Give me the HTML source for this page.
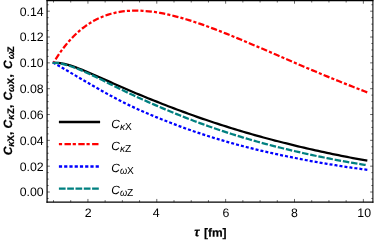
<!DOCTYPE html><html><head><meta charset="utf-8"><title>plot</title><style>html,body{margin:0;padding:0;background:#fff}svg{display:block;will-change:transform}text{font-family:"Liberation Sans",sans-serif;fill:#000;text-rendering:geometricPrecision}</style></head><body>
<svg width="374" height="240" viewBox="0 0 374 240">
<g fill="none" stroke-width="2.25" stroke-linecap="butt" stroke-linejoin="round">
<path d="M52.74 62.94 L55.63 62.76 L58.51 62.90 L61.40 63.29 L64.29 63.86 L67.17 64.59 L70.06 65.44 L72.95 66.38 L75.83 67.40 L78.72 68.49 L81.60 69.62 L84.49 70.79 L87.38 71.99 L90.26 73.22 L93.15 74.47 L96.03 75.73 L98.92 77.00 L101.81 78.29 L104.69 79.57 L107.58 80.86 L110.46 82.15 L113.35 83.43 L116.24 84.71 L119.12 85.99 L122.01 87.25 L124.90 88.51 L127.78 89.76 L130.67 90.99 L133.55 92.22 L136.44 93.43 L139.33 94.64 L142.21 95.83 L145.10 97.02 L147.98 98.19 L150.87 99.36 L153.76 100.52 L156.64 101.66 L159.53 102.80 L162.42 103.94 L165.30 105.06 L168.19 106.18 L171.07 107.28 L173.96 108.38 L176.85 109.47 L179.73 110.55 L182.62 111.62 L185.50 112.68 L188.39 113.73 L191.28 114.77 L194.16 115.80 L197.05 116.82 L199.93 117.82 L202.82 118.82 L205.71 119.81 L208.59 120.79 L211.48 121.76 L214.37 122.72 L217.25 123.66 L220.14 124.60 L223.02 125.53 L225.91 126.44 L228.80 127.35 L231.68 128.25 L234.57 129.13 L237.45 130.01 L240.34 130.88 L243.23 131.74 L246.11 132.58 L249.00 133.42 L251.88 134.25 L254.77 135.07 L257.66 135.88 L260.54 136.68 L263.43 137.47 L266.32 138.25 L269.20 139.02 L272.09 139.78 L274.97 140.54 L277.86 141.28 L280.75 142.02 L283.63 142.74 L286.52 143.46 L289.40 144.17 L292.29 144.88 L295.18 145.59 L298.06 146.29 L300.95 146.98 L303.83 147.66 L306.72 148.34 L309.61 149.00 L312.49 149.66 L315.38 150.31 L318.27 150.95 L321.15 151.58 L324.04 152.21 L326.92 152.82 L329.81 153.43 L332.70 154.04 L335.58 154.63 L338.47 155.22 L341.35 155.80 L344.24 156.37 L347.13 156.93 L350.01 157.49 L352.90 158.02 L355.78 158.55 L358.67 159.07 L361.56 159.58 L364.44 160.08 L367.33 160.58" stroke="#000"/>
<path d="M53.50 62.86 L56.38 58.16 L59.26 53.79 L62.14 49.73 L65.02 45.96 L67.90 42.46 L70.78 39.21 L73.65 36.20 L76.53 33.42 L79.41 30.85 L82.29 28.48 L85.17 26.30 L88.05 24.30 L90.93 22.47 L93.81 20.80 L96.69 19.29 L99.57 17.92 L102.45 16.69 L105.33 15.59 L108.20 14.62 L111.08 13.77 L113.96 13.03 L116.84 12.40 L119.72 11.87 L122.60 11.44 L125.48 11.10 L128.36 10.85 L131.24 10.69 L134.12 10.61 L137.00 10.60 L139.88 10.67 L142.75 10.80 L145.63 11.01 L148.51 11.27 L151.39 11.60 L154.27 11.98 L157.15 12.42 L160.03 12.91 L162.91 13.44 L165.79 14.03 L168.67 14.66 L171.55 15.33 L174.43 16.04 L177.30 16.79 L180.18 17.57 L183.06 18.39 L185.94 19.24 L188.82 20.12 L191.70 21.03 L194.58 21.97 L197.46 22.93 L200.34 23.92 L203.22 24.93 L206.10 25.96 L208.98 27.01 L211.85 28.08 L214.73 29.16 L217.61 30.27 L220.49 31.39 L223.37 32.52 L226.25 33.66 L229.13 34.82 L232.01 35.99 L234.89 37.17 L237.77 38.36 L240.65 39.55 L243.53 40.76 L246.40 41.97 L249.28 43.18 L252.16 44.41 L255.04 45.63 L257.92 46.87 L260.80 48.10 L263.68 49.34 L266.56 50.58 L269.44 51.82 L272.32 53.07 L275.20 54.31 L278.08 55.56 L280.95 56.80 L283.83 58.04 L286.71 59.29 L289.59 60.53 L292.47 61.77 L295.35 63.00 L298.23 64.24 L301.11 65.47 L303.99 66.70 L306.87 67.92 L309.75 69.14 L312.63 70.36 L315.50 71.57 L318.38 72.77 L321.26 73.98 L324.14 75.17 L327.02 76.36 L329.90 77.55 L332.78 78.73 L335.66 79.90 L338.54 81.07 L341.42 82.23 L344.30 83.39 L347.18 84.53 L350.05 85.67 L352.93 86.81 L355.81 87.94 L358.69 89.05 L361.57 90.17 L364.45 91.27 L367.33 92.37" stroke="#f00" stroke-dasharray="3.1 2.1 6.26 2.1" stroke-dashoffset="1.2"/>
<path d="M52.98 62.58 L55.87 64.18 L58.75 65.82 L61.64 67.47 L64.52 69.14 L67.40 70.82 L70.29 72.51 L73.17 74.20 L76.05 75.90 L78.94 77.59 L81.82 79.28 L84.71 80.97 L87.59 82.65 L90.47 84.33 L93.36 85.99 L96.24 87.65 L99.13 89.29 L102.01 90.92 L104.89 92.54 L107.78 94.14 L110.66 95.71 L113.55 97.27 L116.43 98.79 L119.31 100.30 L122.20 101.77 L125.08 103.21 L127.97 104.62 L130.85 106.00 L133.73 107.36 L136.62 108.68 L139.50 109.98 L142.38 111.26 L145.27 112.51 L148.15 113.75 L151.04 114.96 L153.92 116.16 L156.80 117.35 L159.69 118.52 L162.57 119.68 L165.46 120.82 L168.34 121.95 L171.22 123.07 L174.11 124.17 L176.99 125.26 L179.88 126.34 L182.76 127.40 L185.64 128.45 L188.53 129.48 L191.41 130.49 L194.30 131.49 L197.18 132.47 L200.06 133.44 L202.95 134.40 L205.83 135.34 L208.71 136.26 L211.60 137.17 L214.48 138.06 L217.37 138.94 L220.25 139.81 L223.13 140.66 L226.02 141.50 L228.90 142.32 L231.79 143.13 L234.67 143.93 L237.55 144.72 L240.44 145.49 L243.32 146.25 L246.21 147.00 L249.09 147.73 L251.97 148.45 L254.86 149.16 L257.74 149.86 L260.62 150.55 L263.51 151.23 L266.39 151.89 L269.28 152.55 L272.16 153.19 L275.04 153.83 L277.93 154.45 L280.81 155.06 L283.70 155.67 L286.58 156.26 L289.46 156.84 L292.35 157.43 L295.23 158.01 L298.12 158.58 L301.00 159.14 L303.88 159.70 L306.77 160.24 L309.65 160.78 L312.54 161.31 L315.42 161.82 L318.30 162.34 L321.19 162.84 L324.07 163.33 L326.95 163.82 L329.84 164.30 L332.72 164.77 L335.61 165.23 L338.49 165.69 L341.37 166.14 L344.26 166.58 L347.14 167.02 L350.03 167.45 L352.91 167.85 L355.79 168.25 L358.68 168.64 L361.56 169.03 L364.45 169.41 L367.33 169.78" stroke="#00f" stroke-dasharray="3.0 2.032"/>
<path d="M52.60 62.88 L55.49 62.92 L58.38 63.21 L61.27 63.69 L64.15 64.33 L67.04 65.11 L69.93 66.00 L72.82 66.99 L75.70 68.06 L78.59 69.20 L81.48 70.40 L84.37 71.64 L87.25 72.94 L90.14 74.26 L93.03 75.62 L95.92 77.01 L98.80 78.41 L101.69 79.83 L104.58 81.26 L107.47 82.70 L110.35 84.14 L113.24 85.57 L116.13 87.01 L119.01 88.43 L121.90 89.84 L124.79 91.24 L127.68 92.62 L130.56 93.99 L133.45 95.34 L136.34 96.68 L139.23 98.00 L142.11 99.30 L145.00 100.59 L147.89 101.87 L150.78 103.14 L153.66 104.40 L156.55 105.65 L159.44 106.89 L162.33 108.12 L165.21 109.34 L168.10 110.55 L170.99 111.75 L173.87 112.94 L176.76 114.12 L179.65 115.28 L182.54 116.44 L185.42 117.58 L188.31 118.71 L191.20 119.82 L194.09 120.93 L196.97 122.01 L199.86 123.09 L202.75 124.15 L205.64 125.19 L208.52 126.23 L211.41 127.24 L214.30 128.25 L217.19 129.24 L220.07 130.22 L222.96 131.18 L225.85 132.13 L228.74 133.07 L231.62 133.99 L234.51 134.90 L237.40 135.80 L240.28 136.68 L243.17 137.55 L246.06 138.41 L248.95 139.26 L251.83 140.09 L254.72 140.91 L257.61 141.72 L260.50 142.52 L263.38 143.31 L266.27 144.08 L269.16 144.84 L272.05 145.60 L274.93 146.34 L277.82 147.06 L280.71 147.78 L283.60 148.49 L286.48 149.19 L289.37 149.87 L292.26 150.56 L295.14 151.24 L298.03 151.91 L300.92 152.57 L303.81 153.23 L306.69 153.87 L309.58 154.50 L312.47 155.12 L315.36 155.74 L318.24 156.34 L321.13 156.94 L324.02 157.52 L326.91 158.10 L329.79 158.67 L332.68 159.23 L335.57 159.78 L338.46 160.32 L341.34 160.86 L344.23 161.39 L347.12 161.90 L350.01 162.41 L352.89 162.90 L355.78 163.38 L358.67 163.85 L361.55 164.31 L364.44 164.77 L367.33 165.22" stroke="#008080" stroke-dasharray="6.5 1.82"/>
</g>
<path d="M53.50 202.15 v-2.00 M53.50 0.50 v2.00 M70.72 202.15 v-2.00 M70.72 0.50 v2.00 M87.93 202.15 v-3.20 M87.93 0.50 v3.20 M105.14 202.15 v-2.00 M105.14 0.50 v2.00 M122.36 202.15 v-2.00 M122.36 0.50 v2.00 M139.57 202.15 v-2.00 M139.57 0.50 v2.00 M156.79 202.15 v-3.20 M156.79 0.50 v3.20 M174.00 202.15 v-2.00 M174.00 0.50 v2.00 M191.22 202.15 v-2.00 M191.22 0.50 v2.00 M208.44 202.15 v-2.00 M208.44 0.50 v2.00 M225.65 202.15 v-3.20 M225.65 0.50 v3.20 M242.87 202.15 v-2.00 M242.87 0.50 v2.00 M260.08 202.15 v-2.00 M260.08 0.50 v2.00 M277.29 202.15 v-2.00 M277.29 0.50 v2.00 M294.51 202.15 v-3.20 M294.51 0.50 v3.20 M311.73 202.15 v-2.00 M311.73 0.50 v2.00 M328.94 202.15 v-2.00 M328.94 0.50 v2.00 M346.15 202.15 v-2.00 M346.15 0.50 v2.00 M363.37 202.15 v-3.20 M363.37 0.50 v3.20 M47.08 198.46 h1.55 M372.90 198.46 h-1.55 M47.08 192.00 h2.75 M372.90 192.00 h-2.75 M47.08 185.54 h1.55 M372.90 185.54 h-1.55 M47.08 179.09 h1.55 M372.90 179.09 h-1.55 M47.08 172.63 h1.55 M372.90 172.63 h-1.55 M47.08 166.17 h2.75 M372.90 166.17 h-2.75 M47.08 159.72 h1.55 M372.90 159.72 h-1.55 M47.08 153.26 h1.55 M372.90 153.26 h-1.55 M47.08 146.80 h1.55 M372.90 146.80 h-1.55 M47.08 140.34 h2.75 M372.90 140.34 h-2.75 M47.08 133.89 h1.55 M372.90 133.89 h-1.55 M47.08 127.43 h1.55 M372.90 127.43 h-1.55 M47.08 120.97 h1.55 M372.90 120.97 h-1.55 M47.08 114.52 h2.75 M372.90 114.52 h-2.75 M47.08 108.06 h1.55 M372.90 108.06 h-1.55 M47.08 101.60 h1.55 M372.90 101.60 h-1.55 M47.08 95.14 h1.55 M372.90 95.14 h-1.55 M47.08 88.69 h2.75 M372.90 88.69 h-2.75 M47.08 82.23 h1.55 M372.90 82.23 h-1.55 M47.08 75.77 h1.55 M372.90 75.77 h-1.55 M47.08 69.32 h1.55 M372.90 69.32 h-1.55 M47.08 62.86 h2.75 M372.90 62.86 h-2.75 M47.08 56.40 h1.55 M372.90 56.40 h-1.55 M47.08 49.95 h1.55 M372.90 49.95 h-1.55 M47.08 43.49 h1.55 M372.90 43.49 h-1.55 M47.08 37.03 h2.75 M372.90 37.03 h-2.75 M47.08 30.57 h1.55 M372.90 30.57 h-1.55 M47.08 24.12 h1.55 M372.90 24.12 h-1.55 M47.08 17.66 h1.55 M372.90 17.66 h-1.55 M47.08 11.20 h2.75 M372.90 11.20 h-2.75 M47.08 4.75 h1.55 M372.90 4.75 h-1.55" stroke="#000" stroke-width="0.6" fill="none"/>
<g stroke="#000" fill="none">
<path d="M47.08 -0.12 V202.75" stroke-width="1.22"/>
<path d="M372.90 -0.12 V202.75" stroke-width="1.05"/>
<path d="M46.45 0.50 H373.42" stroke-width="1.25"/>
<path d="M46.45 202.15 H373.42" stroke-width="1.2"/>
</g>
<g font-size="12.3px">
<text x="43.7" y="196.40" text-anchor="end">0.00</text>
<text x="43.7" y="170.57" text-anchor="end">0.02</text>
<text x="43.7" y="144.74" text-anchor="end">0.04</text>
<text x="43.7" y="118.92" text-anchor="end">0.06</text>
<text x="43.7" y="93.09" text-anchor="end">0.08</text>
<text x="43.7" y="67.26" text-anchor="end">0.10</text>
<text x="43.7" y="41.43" text-anchor="end">0.12</text>
<text x="43.7" y="15.60" text-anchor="end">0.14</text>
<text x="88.23" y="217.2" text-anchor="middle">2</text>
<text x="156.29" y="217.2" text-anchor="middle">4</text>
<text x="225.95" y="217.2" text-anchor="middle">6</text>
<text x="294.51" y="217.2" text-anchor="middle">8</text>
<text x="364.17" y="217.2" text-anchor="middle">10</text>
</g>
<text transform="translate(194.2 236.2) rotate(0.03)" font-size="12.5px" font-weight="bold" font-style="italic" stroke="#000" stroke-width="0.25">τ</text>
<text transform="translate(203.9 236.8) rotate(0.03)" font-size="12px" font-weight="bold" stroke="#000" stroke-width="0.2">[fm]</text>
<g transform="translate(12.20 0) rotate(-90)" font-weight="bold" stroke="#000" stroke-width="0.2"><text x="-155.20" y="0" font-size="12px" font-style="italic">C</text><text x="-146.75" y="1.30" font-size="9.5px" font-style="italic">κ</text><text x="-141.40" y="1.30" font-size="9.5px">X</text><text x="-134.90" y="0" font-size="12px">,</text><text x="-128.40" y="0" font-size="12px" font-style="italic">C</text><text x="-119.70" y="1.30" font-size="9.5px" font-style="italic">κ</text><text x="-113.90" y="1.30" font-size="9.5px">Z</text><text x="-108.00" y="0" font-size="12px">,</text><text x="-100.45" y="0" font-size="12px" font-style="italic">C</text><text x="-92.05" y="1.30" font-size="9.5px" font-style="italic">ω</text><text x="-84.25" y="1.30" font-size="9.5px">X</text><text x="-77.55" y="0" font-size="12px">,</text><text x="-68.90" y="0" font-size="12px" font-style="italic">C</text><text x="-59.35" y="1.30" font-size="9.5px" font-style="italic">ω</text><text x="-52.27" y="1.30" font-size="9.5px">Z</text></g>
<path d="M58.9 122.00 H100.1" stroke="#000" stroke-width="2.3" fill="none"/>
<text x="111.3" y="127.50" font-size="12px" font-style="italic">C</text>
<text x="120.0" y="129.60" font-size="10.2px"><tspan font-style="italic">κ</tspan>X</text>
<path d="M58.9 144.20 H100.1" stroke="#f00" stroke-width="2.3" fill="none" stroke-dasharray="3.2 2.4 6.4 1.8"/>
<text x="111.3" y="149.70" font-size="12px" font-style="italic">C</text>
<text x="120.0" y="151.80" font-size="10.2px"><tspan font-style="italic">κ</tspan>Z</text>
<path d="M58.9 166.50 H100.1" stroke="#00f" stroke-width="2.3" fill="none" stroke-dasharray="3.2 2.05"/>
<text x="111.3" y="171.70" font-size="12px" font-style="italic">C</text>
<text transform="translate(120.0 173.80) scale(0.9 1)" font-size="10.2px" font-style="italic">ω</text>
<text x="126.9" y="173.80" font-size="10.2px">X</text>
<path d="M58.9 188.60 H100.1" stroke="#008080" stroke-width="2.3" fill="none" stroke-dasharray="6.7 1.6"/>
<text x="111.3" y="193.80" font-size="12px" font-style="italic">C</text>
<text transform="translate(120.0 195.90) scale(0.9 1)" font-size="10.2px" font-style="italic">ω</text>
<text x="126.9" y="195.90" font-size="10.2px">Z</text>
</svg></body></html>
